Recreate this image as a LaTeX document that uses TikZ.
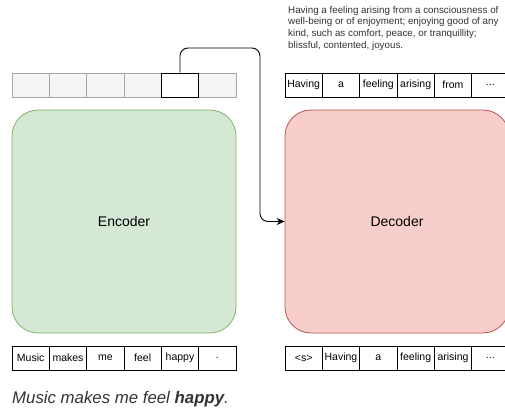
\documentclass[tikz,border=0pt]{standalone}
\usepackage{fontspec}
\setmainfont{Liberation Sans}
\usepackage{tikz}
\usetikzlibrary{positioning}
\usetikzlibrary{arrows.meta}
\definecolor{encfill}{HTML}{D5E8D4}
\definecolor{encdraw}{HTML}{82B366}
\definecolor{decfill}{HTML}{F8CECC}
\definecolor{decdraw}{HTML}{B85450}
\definecolor{cellgrey}{HTML}{F5F5F5}
\definecolor{linegrey}{HTML}{A6A6A6}
\definecolor{textgrey}{HTML}{333333}
\newcommand{\etc}{...}

\begin{document}
\begin{tikzpicture}[x=1pt, y=-1pt,
	token/.style={draw, line width=0.9pt, minimum width=37.33pt, minimum height=24pt, inner sep=0pt, font=\fontsize{10.5}{12}\selectfont},
	hidden/.style={token, draw=linegrey, fill=cellgrey},
	block/.style={rounded corners=26pt, line width=0.8pt, minimum width=224pt, minimum height=223pt, font=\fontsize{14}{16}\selectfont}]
	\useasboundingbox (0,0) rectangle (505,411);
	\def\cw{37.33}

	% encoder and decoder
	\node[block, draw=encdraw, fill=encfill] (enc) at (124,221.5) {Encoder};
	\node[block, draw=decdraw, fill=decfill] (dec) at (397,221.5) {Decoder};

	% encoder hidden states
	\foreach \i in {1,2,3,4,5,6} {
		\node[hidden] (h\i) at ({12+(\i-0.5)*\cw},85) {};
	}
	\node[token, fill=white] (h5) at ({12+4.5*\cw},85) {};

	% encoder input
	\foreach \w [count=\i] in {Music, makes, me, feel, happy, .} {
		\node[token] (x\i) at ({12+(\i-0.5)*\cw},358) {\w};
	}

	% decoder input
	\foreach \w [count=\i] in {<s>, Having, a, feeling, arising, \etc} {
		\node[token] (y\i) at ({285+(\i-0.5)*\cw},358) {\w};
	}

	% decoder output
	\foreach \w [count=\i] in {Having, a, feeling, arising, from, \etc} {
		\node[token] (o\i) at ({285+(\i-0.5)*\cw},85) {\w};
	}

	% context vector into the decoder
	\coordinate (up) at (h5.north |- 0,48);
	\coordinate (down) at (260,48);
	\draw[line width=0.9pt, rounded corners=8pt, -{Stealth[length=8pt, width=7pt]}] (h5.north) -- (up) -- (down) -- (down |- dec.west) -- (dec.west);

	% definition of happy
	\node[anchor=north west, align=left, inner sep=0pt, text=textgrey, font=\fontsize{9.8}{11.6}\selectfont] (gloss) at (288,6) {Having a feeling arising from a consciousness of\\well-being or of enjoyment; enjoying good of any\\kind, such as comfort, peace, or tranquillity;\\blissful, contented, joyous.};

	% sentence
	\node[anchor=west, inner sep=0pt, text=textgrey, font=\fontsize{16.8}{18}\selectfont\itshape] (sent) at (12,399) {Music makes me feel \textbf{happy}.};
\end{tikzpicture}
\end{document}
